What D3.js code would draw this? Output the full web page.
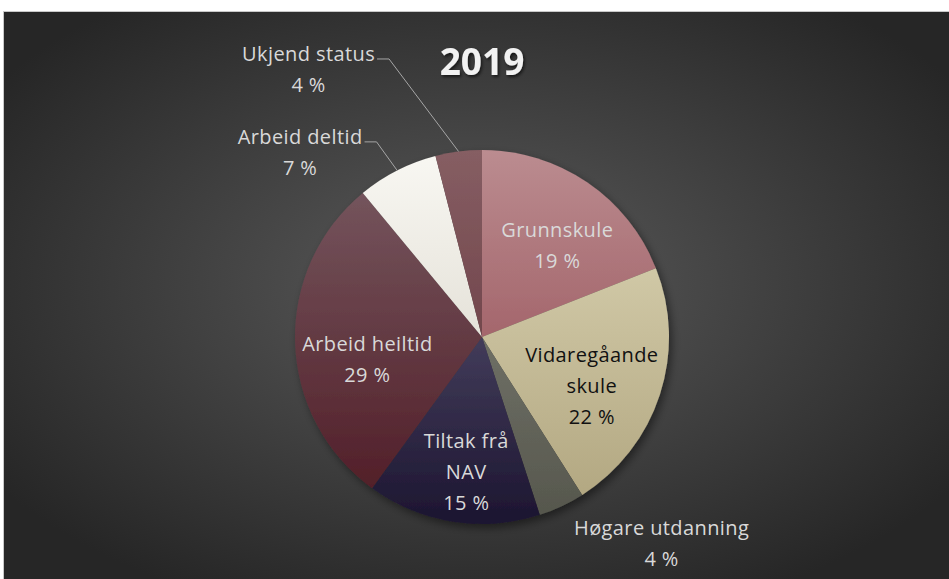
<!DOCTYPE html>
<html>
<head>
<meta charset="utf-8">
<script src="https://cdn.jsdelivr.net/npm/d3@7"></script>
<style>
  body { margin: 0; background: #ffffff; }
  svg text { font-family: "Open Sans", "Noto Sans", sans-serif; }
</style>
</head>
<body>
<svg width="949" height="579"></svg>
<script>
// Data (share in percent, clockwise from 12 o'clock)
let categories = ["Grunnskule", "Vidaregåande skule", "Høgare utdanning", "Tiltak frå NAV", "Arbeid heiltid", "Arbeid deltid", "Ukjend status"];
let values     = [19, 22, 4, 15, 29, 7, 4];

// Slice colours: light top -> base bottom
let topColors  = ["#bb8c90", "#d0c8a6", "#6f7066", "#423c5a", "#74545c", "#f8f7f2", "#865e63"];
let baseColors = ["#a4666c", "#b3a882", "#56574d", "#1c1530", "#521f29", "#e5e2d9", "#72464c"];

// Label rows and which labels sit outside the pie
let labelLines = [["Grunnskule"], ["Vidaregåande", "skule"], ["Høgare utdanning"], ["Tiltak frå", "NAV"], ["Arbeid heiltid"], ["Arbeid deltid"], ["Ukjend status"]];
let outside    = [false, false, true, false, false, true, true];

let svg = d3.select("svg");
let width = 949, height = 579;
let defs = svg.append("defs");

// Background gradient
let bg = defs.append("radialGradient").attr("id", "bgGrad")
    .attr("cx", "50%").attr("cy", "48%").attr("r", "62%");
bg.append("stop").attr("offset", "0%").attr("stop-color", "#5b5b5b");
bg.append("stop").attr("offset", "100%").attr("stop-color", "#262626");

svg.append("rect")
    .attr("x", 3.5).attr("y", 11.5)
    .attr("width", width - 3.5).attr("height", height - 11.5)
    .attr("fill", "url(#bgGrad)")
    .attr("stroke", "#c8c8c8").attr("stroke-width", 1);
svg.append("rect")
    .attr("x", 4).attr("y", 12)
    .attr("width", width - 4).attr("height", height - 12)
    .attr("fill", "url(#bgGrad)");

// Shadows
let sh = defs.append("filter").attr("id", "pieShadow")
    .attr("x", "-20%").attr("y", "-20%").attr("width", "140%").attr("height", "140%");
sh.append("feDropShadow").attr("dx", 3).attr("dy", 4).attr("stdDeviation", 4)
    .attr("flood-color", "#000").attr("flood-opacity", 0.45);

let tsh = defs.append("filter").attr("id", "titleShadow");
tsh.append("feDropShadow").attr("dx", 1.5).attr("dy", 2).attr("stdDeviation", 1.5)
    .attr("flood-color", "#000").attr("flood-opacity", 0.6);

// Slice gradients
categories.forEach((c, i) => {
    let lg = defs.append("linearGradient").attr("id", "slice" + i)
        .attr("x1", 0).attr("y1", 0).attr("x2", 0).attr("y2", 1);
    lg.append("stop").attr("offset", "0%").attr("stop-color", topColors[i]);
    lg.append("stop").attr("offset", "100%").attr("stop-color", baseColors[i]);
});

// Title
svg.append("text")
    .attr("x", 482).attr("y", 75)
    .attr("text-anchor", "middle")
    .attr("font-size", 37).attr("font-weight", "bold")
    .attr("fill", "#f2f2f2")
    .attr("filter", "url(#titleShadow)")
    .text("2019");

// Pie
let cx = 482, cy = 337, radius = 187;
let g = svg.append("g").attr("transform", `translate(${cx}, ${cy})`);

let data = categories.map((c, i) => ({ label: c, value: values[i], idx: i }));
let pie = d3.pie().value(d => d.value).sort(null);
let arcs = pie(data);

let arc = d3.arc().innerRadius(0).outerRadius(radius);

g.append("g").attr("filter", "url(#pieShadow)")
    .selectAll("path")
    .data(arcs)
    .enter()
    .append("path")
    .attr("d", arc)
    .attr("fill", d => `url(#slice${d.data.idx})`);

// Label placement: inside labels from a mid-radius arc, outside ones from the rim
let inArc   = d3.arc().innerRadius(radius * 0.64).outerRadius(radius * 0.64);
let edgeArc = d3.arc().innerRadius(radius).outerRadius(radius);
let nudge = {
    0: [8, 7],
    1: [-4, 12],
    2: [100, 37],
    3: [3, 17],
    4: [5, 19],
    5: [-97, -18],
    6: [-150, -82]
};
let lineH = 31;

arcs.forEach(d => {
    let i = d.data.idx;
    let lines = labelLines[i].concat([d.data.value + " %"]);
    let pos = outside[i] ? edgeArc.centroid(d) : inArc.centroid(d);
    let lx = pos[0] + nudge[i][0], ly = pos[1] + nudge[i][1];
    let fill = i === 1 ? "#111111" : "#d9d9d9";

    let t = g.append("text")
        .attr("text-anchor", "middle")
        .attr("font-size", 20)
        .attr("letter-spacing", 0.4)
        .attr("fill", fill);
    lines.forEach((ln, k) => {
        t.append("tspan")
            .attr("x", lx)
            .attr("y", ly + (k - (lines.length - 1) / 2) * lineH + 7)
            .text(ln);
    });

    // Leader lines for the upper-left outside labels
    if (outside[i] && i !== 2) {
        let e = edgeArc.centroid(d);
        let w = t.select("tspan").node().getComputedTextLength();
        let firstY = ly - (lines.length - 1) / 2 * lineH + 5;
        let tx = lx + w / 2 + 2;
        let pts = [[tx, firstY], [tx + 12, firstY], [e[0], e[1]]];
        g.append("path")
            .attr("d", d3.line()(pts))
            .attr("fill", "none")
            .attr("stroke", "#a6a6a6")
            .attr("stroke-width", 1);
    }
});
</script>
</body>
</html>
